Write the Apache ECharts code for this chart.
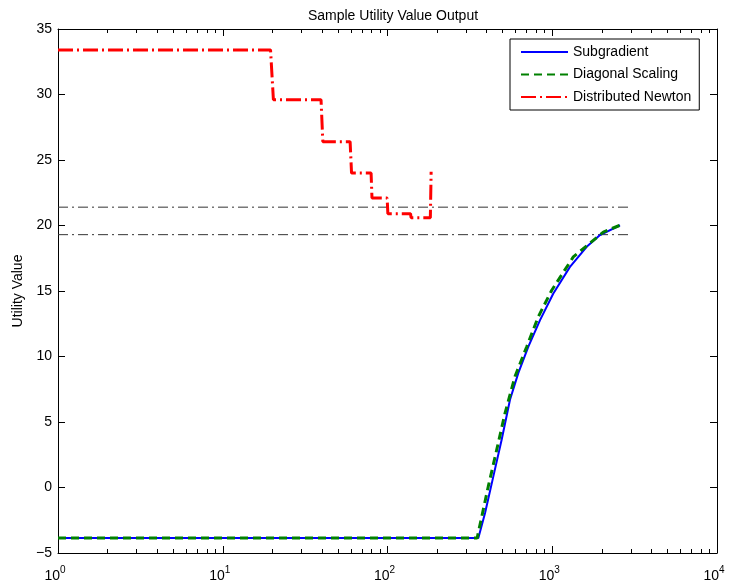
<!DOCTYPE html>
<html>
<head>
<meta charset="utf-8">
<script src="https://cdn.jsdelivr.net/npm/echarts@6/dist/echarts.min.js"></script>
<style>
html,body{margin:0;padding:0;background:#fff;}
#c{width:732px;height:583px;}
</style>
</head>
<body>
<div id="c"></div>
<script>
// ---- data ----
const titleText = 'Sample Utility Value Output';
const yAxisName = 'Utility Value';
const seriesNames = ['Subgradient', 'Diagonal Scaling', 'Distributed Newton'];

const subgradX = [1, 356, 391, 439, 493, 554, 622, 716, 843, 1015, 1281, 1618, 1949, 2578];
const subgradY = [-3.86, -3.86, -1.95, 0.85, 3.64, 6.7, 8.73, 10.75, 12.78, 14.81, 16.84, 18.37, 19.27, 20.02];

const diagX = [1, 350, 409, 460, 517, 594, 700, 823, 993, 1342, 2042, 2578];
const diagY = [-3.86, -3.86, 0.08, 2.87, 5.68, 8.47, 10.75, 13.04, 15.06, 17.6, 19.5, 20.02];

const newtonX = [1, 19.5, 20.3, 39.5, 40.5, 59.3, 60.5, 79.5, 80.5, 99.5, 100.5, 138, 139, 182, 184];
const newtonY = [33.4, 33.4, 29.6, 29.6, 26.4, 26.4, 24.0, 24.0, 22.1, 22.1, 20.9, 20.9, 20.6, 20.6, 24.1];

const refLineX = [1, 2920];
const refLevels = [21.4, 19.3];

const xMin = 1, xMax = 10000;
const yMin = -5, yMax = 35, yStep = 5;

// ---- chart ----
const FONT = 'Liberation Sans';
const zip = (xs, ys) => xs.map((x, i) => [x, ys[i]]);

const series = [
  {
    name: seriesNames[0], type: 'line', data: zip(subgradX, subgradY),
    symbol: 'none', z: 3,
    lineStyle: { color: '#0000ff', width: 2, type: 'solid' },
    itemStyle: { color: '#0000ff' }
  },
  {
    name: seriesNames[1], type: 'line', data: zip(diagX, diagY),
    symbol: 'none', z: 4,
    lineStyle: { color: '#008000', width: 3, type: [8, 5] },
    itemStyle: { color: '#008000' }
  },
  {
    name: seriesNames[2], type: 'line', data: zip(newtonX, newtonY),
    symbol: 'none', z: 5,
    lineStyle: { color: '#ff0000', width: 3, type: [15, 4, 2, 4] },
    itemStyle: { color: '#ff0000' }
  }
];
refLevels.forEach((lv, i) => {
  series.push({
    name: 'ref' + i, type: 'line', data: refLineX.map(x => [x, lv]),
    symbol: 'none', z: 2, silent: true,
    lineStyle: { color: '#333333', width: 1, type: [10, 4, 2, 4] }
  });
});

const tickStyle = { color: '#000', width: 1 };
const chart = echarts.init(document.getElementById('c'), null, { renderer: 'canvas' });
chart.setOption({
  animation: false,
  backgroundColor: '#fff',
  textStyle: { fontFamily: FONT },
  title: {
    text: titleText, left: 388, top: 4, textAlign: 'center',
    textStyle: { fontFamily: FONT, fontSize: 14, fontWeight: 'normal', color: '#000' }
  },
  legend: {
    data: seriesNames, orient: 'vertical', left: 510, top: 39,
    padding: [6, 8, 6, 10], itemGap: 8.5, itemWidth: 47, itemHeight: 14,
    borderColor: '#000', borderWidth: 1, backgroundColor: '#fff',
    itemStyle: { opacity: 0 },
    textStyle: { fontFamily: FONT, fontSize: 14, color: '#000', padding: [0, 0, 0, 0] }
  },
  grid: { left: 58, right: 15, top: 29, bottom: 30, containLabel: false, outerBoundsMode: 'none' },
  xAxis: [
    {
      type: 'log', logBase: 10, min: xMin, max: xMax, position: 'bottom',
      axisLine: { onZero: false, lineStyle: tickStyle },
      axisTick: { inside: true, length: 7, lineStyle: tickStyle },
      minorTick: { show: true, splitNumber: 9, length: 4, lineStyle: tickStyle },
      splitLine: { show: false },
      axisLabel: {
        margin: 12, showMinLabel: true, showMaxLabel: true, padding: [0, 6, 0, 0],
        formatter: v => '{b|10}{e|' + Math.round(Math.log10(v)) + '}',
        rich: {
          b: { fontFamily: FONT, fontSize: 14, color: '#000' },
          e: { fontFamily: FONT, fontSize: 10, color: '#000', padding: [0, 0, 12, 0] }
        }
      }
    },
    {
      type: 'log', logBase: 10, min: xMin, max: xMax, position: 'top',
      axisLine: { onZero: false, lineStyle: tickStyle },
      axisTick: { inside: true, length: 7, lineStyle: tickStyle },
      minorTick: { show: true, splitNumber: 9, length: 4, lineStyle: tickStyle },
      splitLine: { show: false },
      axisLabel: { show: false }
    }
  ],
  yAxis: [
    {
      type: 'value', min: yMin, max: yMax, interval: yStep, position: 'left',
      name: yAxisName, nameLocation: 'middle', nameGap: 29,
      nameTextStyle: { fontFamily: FONT, fontSize: 14, color: '#000' },
      axisLine: { show: true, onZero: false, lineStyle: tickStyle },
      axisTick: { show: true, inside: true, length: 7, lineStyle: tickStyle },
      splitLine: { show: false },
      axisLabel: {
        margin: 6, fontFamily: FONT, fontSize: 14, color: '#000',
        formatter: v => String(v).replace('-', '\u2212')
      }
    },
    {
      type: 'value', min: yMin, max: yMax, interval: yStep, position: 'right',
      axisLine: { show: true, onZero: false, lineStyle: tickStyle },
      axisTick: { show: true, inside: true, length: 7, lineStyle: tickStyle },
      splitLine: { show: false },
      axisLabel: { show: false }
    }
  ],
  series: series
});
</script>
</body>
</html>
